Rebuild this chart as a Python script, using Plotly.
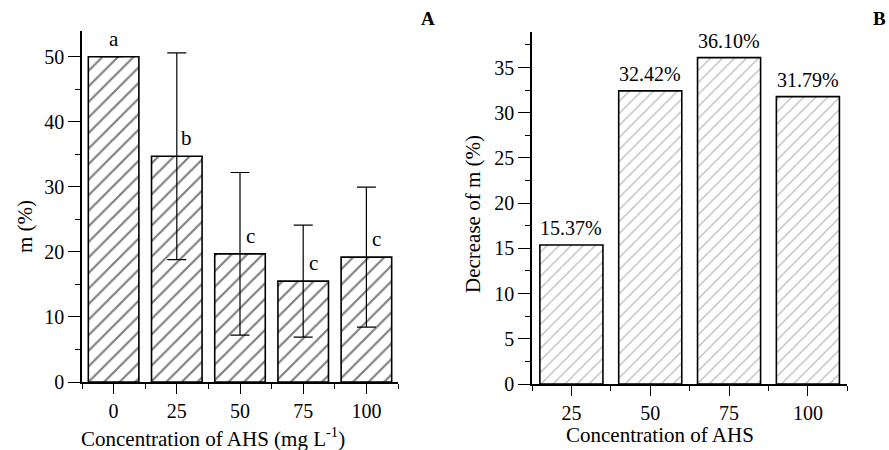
import plotly.graph_objects as go

# ---- data ----
conc_a = ["0", "25", "50", "75", "100"]
m_mean = [50.0, 34.7, 19.7, 15.5, 19.2]
m_err = [0.0, 15.9, 12.5, 8.6, 10.75]
sig_letters = ["a", "b", "c", "c", "c"]

conc_b = ["25", "50", "75", "100"]
decrease = [15.37, 32.42, 36.10, 31.79]

FONT = "Liberation Serif, Times New Roman, serif"
W, H = 889, 450

pos_a = list(range(len(conc_a)))
pos_b = list(range(len(conc_b)))

fig = go.Figure()

fig.add_trace(go.Bar(
    x=pos_a, y=m_mean, width=0.8, xaxis="x", yaxis="y",
    marker=dict(color="white", line=dict(color="black", width=1.6),
                pattern=dict(shape="/", fgcolor="black", bgcolor="white",
                             size=11, solidity=0.2)),
    error_y=dict(type="data", array=m_err, symmetric=True, color="black",
                 thickness=1.2, width=9.5),
    showlegend=False,
))

fig.add_trace(go.Bar(
    x=pos_b, y=decrease, width=0.8, xaxis="x2", yaxis="y2",
    marker=dict(color="white", line=dict(color="black", width=1.6),
                pattern=dict(shape="/", fgcolor="#707070", bgcolor="white",
                             size=8.5, solidity=0.14)),
    showlegend=False,
))


def paper_text(px, py, text, size=20, angle=0):
    return dict(x=px / W, y=(H - py) / H, xref="paper", yref="paper",
                xanchor="center", yanchor="middle", text=text, textangle=angle,
                showarrow=False, font=dict(family=FONT, size=size, color="black"))


annotations = []
# significance letters
for i, (v, e, lt) in enumerate(zip(m_mean, m_err, sig_letters)):
    annotations.append(dict(
        x=i + (0.16 if e > 0 else 0), y=v, xref="x", yref="y",
        text=lt, showarrow=False, xanchor="center", yanchor="bottom", yshift=4,
        font=dict(family=FONT, size=21, color="black")))
# value labels for B
for i, v in enumerate(decrease):
    annotations.append(dict(
        x=i, y=v, xref="x2", yref="y2", text=f"{v:.2f}%", showarrow=False,
        xanchor="center", yanchor="bottom", yshift=4,
        font=dict(family=FONT, size=20, color="black")))

# axis titles & panel labels
annotations += [
    paper_text(25, 227, "m (%)", size=21, angle=-90),
    paper_text(473, 214, "Decrease of m (%)", size=21, angle=-90),
    paper_text(213, 437, "Concentration of AHS (mg L<sup>-1</sup>)", size=21),
    paper_text(660, 435, "Concentration of AHS", size=21),
    paper_text(428, 18, "<b>A</b>", size=19),
    paper_text(879, 18, "<b>B</b>", size=19),
]

tickfont = dict(family=FONT, size=20, color="black")


def xaxis_cfg(n, labels, domain, anchor):
    return dict(
        domain=domain, range=[-0.5, n - 0.5], tickmode="array",
        tickvals=list(range(n)), ticktext=labels, ticks="outside",
        ticklen=10, tickwidth=1.4, tickcolor="black",
        showline=True, linecolor="black", linewidth=1.6,
        showgrid=False, zeroline=False, tickfont=tickfont, anchor=anchor,
        minor=dict(tickmode="array", tickvals=[k - 0.5 for k in range(n + 1)],
                   ticks="outside", ticklen=5, tickwidth=1.4, tickcolor="black",
                   showgrid=False),
        fixedrange=True, automargin=False,
    )


def yaxis_cfg(domain, top, dtick, anchor):
    return dict(
        domain=domain, range=[0, top], dtick=dtick, tick0=0, ticks="outside",
        ticklen=12, tickwidth=1.4, tickcolor="black",
        showline=True, linecolor="black", linewidth=1.6,
        showgrid=False, zeroline=False, tickfont=tickfont, anchor=anchor,
        minor=dict(dtick=dtick / 2, tick0=0, ticks="outside", ticklen=5,
                   tickwidth=1.4, tickcolor="black", showgrid=False),
        fixedrange=True, automargin=False,
    )


fig.update_layout(
    width=W, height=H, autosize=False,
    margin=dict(l=0, r=0, t=0, b=0, pad=0),
    paper_bgcolor="white", plot_bgcolor="white",
    font=dict(family=FONT, color="black"),
    xaxis=xaxis_cfg(len(conc_a), conc_a, [82 / W, 398 / W], "y"),
    yaxis=yaxis_cfg([68 / H, 419.3 / H], 54, 10, "x"),
    xaxis2=xaxis_cfg(len(conc_b), conc_b, [532 / W, 847.3 / W], "y2"),
    yaxis2=yaxis_cfg([66 / H, 417.7 / H], 38.9, 5, "x2"),
    annotations=annotations,
)

fig.write_html("out.html",
               config={"displayModeBar": False},
               post_script="document.body.style.margin='0';document.body.style.overflow='hidden';")
